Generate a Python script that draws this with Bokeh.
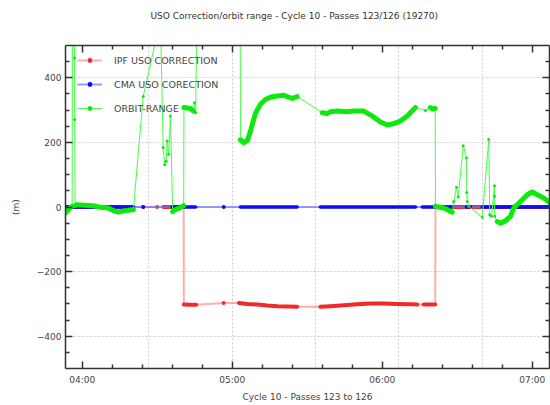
from bokeh.plotting import figure
from bokeh.models import (Range1d, FixedTicker, LinearAxis, Legend, LegendItem,
                          CustomLabelingPolicy)
from bokeh.embed import file_html
from bokeh.resources import INLINE

# ---------------- data (time in minutes after 00:00, values in metres) ----------------
# run id: 0 = isolated sample, same positive id = continuous high-rate run
ipf_t = [233.3, 260.5, 264.4, 270.0, 272.5, 280.6,
         280.65, 283.0, 285.6, 296.6,
         302.7, 306.1, 310.1, 314.1, 318.1, 322.0, 326.0,
         335.3, 339.3, 344.6, 349.9, 355.3, 360.6, 365.9, 371.3, 374.0,
         376.6, 381.2, 381.3, 426.9]
ipf_v = [0, 0, 0, 0, 0, 0,
         -302, -303, -303, -297,
         -297, -300, -302, -305, -307, -308, -309,
         -309, -307, -304, -301, -298.5, -298.5, -300, -301, -302,
         -302, -302, 0, 0]
ipf_run = [1, 1, 0, 0, 2, 2,
           3, 3, 3, 0,
           4, 4, 4, 4, 4, 4, 4,
           5, 5, 5, 5, 5, 5, 5, 5, 5,
           6, 6, 7, 7]

cma_t = [233.3, 260.5, 264.4, 276.0, 285.4, 296.6, 303.3, 326.0, 335.3, 373.3,
         376.0, 380.5, 381.5, 388.0, 393.7, 395.3, 400.0, 426.9]
cma_v = [0, 0, 0, 0, 0, 0, 0, 0, 0, 0,
         0, 0, 0, 0, 0, 0, 0, 0]
cma_run = [1, 1, 0, 2, 2, 0, 3, 3, 4, 4,
           5, 5, 6, 6, 7, 7, 8, 8]

orbit_t = [233.3, 234.5, 235.5, 236.0, 236.1, 236.8, 236.95, 237.0,
           237.2, 238.1, 242.1, 244.5, 247.3, 250.1, 252.5, 254.5, 256.5, 259.3, 260.5,
           264.4, 271.3, 272.4, 273.0, 273.6, 274.0, 274.6, 275.3,
           276.2, 277.3, 279.3, 280.6,
           280.7, 283.3, 284.5, 284.9, 285.4, 286.0, 303.2,
           303.3, 304.5, 306.1, 307.3, 309.3, 311.3, 313.3, 315.3, 317.3, 320.6, 322.5, 324.0, 326.0,
           336.0, 338.0, 339.3, 342.0, 346.0, 348.6, 352.6, 356.0, 359.3, 362.0, 364.6, 367.3, 370.0, 373.3,
           377.3, 379.3, 380.2, 381.2,
           381.3, 382.6, 384.6, 386.0, 387.3, 388.0,
           388.6, 389.7, 390.4, 392.4, 393.7, 393.8, 394.0, 394.6, 400.0, 402.6, 403.0, 403.7,
           404.9, 404.95, 405.0,
           406.0, 407.3, 409.3, 411.3, 412.6, 415.3, 418.0, 420.0, 422.0, 424.6, 426.9]
orbit_v = [-18, -8, 0, 2, 640, 640, 461, 271,
           5, 7, 5, 4, -1, -2, -11, -16, -12, -9, -8,
           342, 580, 184, 131, 142, 204, 163, 282,
           -14, -8, -2, 4,
           308, 305, 297, 323, 292, 700, 700,
           208, 199, 206, 235, 290, 318, 333, 340, 343, 346, 340, 336, 342,
           292, 289, 295, 297, 295, 297, 297, 282, 263, 254, 258, 266, 282, 308,
           299, 308, 303, 305,
           2, 0, -3, -8, -14, -16,
           17, 61, 31, 190, 152, 45, 17, 2, -32, 209, -24, -29,
           66, 33, -29,
           -45, -50, -43, -29, -3, 17, 38, 47, 38, 28, 14]
orbit_run = [1, 1, 1, 1, 0, 0, 0, 0,
             2, 2, 2, 2, 2, 2, 2, 2, 2, 2, 2,
             0, 0, 0, 0, 0, 0, 0, 0,
             3, 3, 3, 3,
             4, 4, 4, 0, 0, 0, 0,
             5, 5, 5, 5, 5, 5, 5, 5, 5, 5, 5, 5, 5,
             6, 6, 6, 6, 6, 6, 6, 6, 6, 6, 6, 6, 6, 6,
             0, 7, 7, 7,
             8, 8, 8, 8, 8, 8,
             0, 0, 0, 0, 0, 0, 0, 0, 0, 0, 0, 0,
             0, 0, 0,
             9, 9, 9, 9, 9, 9, 9, 9, 9, 9, 9]

x_start_s, x_end_s = 14000, 25614          # seconds
grid_x_s = [16000, 18000, 20000, 22000, 24000]
tick_t = [240, 300, 360, 420]
tick_labels = ["04:00", "05:00", "06:00", "07:00"]
minor_t = [228, 252, 264, 276, 288, 312, 324, 336, 348, 372, 384, 396, 408]
y_ticks = [-400, -200, 0, 200, 400]
y_minor = [-450, -350, -300, -250, -150, -100, -50, 50, 100, 150, 250, 300, 350, 450]

title_text = "USO Correction/orbit range - Cycle 10 - Passes 123/126 (19270)"
x_label = "Cycle 10 - Passes 123 to 126"
y_label = "(m)"
names = ["IPF USO CORRECTION", "CMA USO CORECTION", "ORBIT-RANGE"]

FONT = "DejaVu Sans"
TXT = "#444444"


def runs(t, v, r):
    xs, ys = [], []
    for rid in sorted(set(r) - {0}):
        idx = [i for i, k in enumerate(r) if k == rid]
        xs.append([t[i] for i in idx])
        ys.append([v[i] for i in idx])
    return xs, ys


def isolated(t, v, r):
    idx = [i for i, k in enumerate(r) if k == 0]
    return [t[i] for i in idx], [v[i] for i in idx]


p = figure(width=550, height=405, output_backend="svg", toolbar_location=None,
           x_range=Range1d(x_start_s / 60, x_end_s / 60), y_range=Range1d(-500, 500),
           min_border_left=65, min_border_right=1, min_border_top=45, min_border_bottom=37)
p.outline_line_color = None
p.background_fill_color = "white"
p.border_fill_color = "white"

# title
p.title.text = title_text
p.title.align = "left"
p.title.offset = 85
p.title.text_font = FONT
p.title.text_font_size = "9px"
p.title.text_font_style = "normal"
p.title.text_color = "#333333"
p.title.vertical_align = "bottom"
p.title.standoff = 10
if "padding" in p.title.properties():
    p.title.padding = dict(top=0, right=0, bottom=20, left=0)

# grids
p.xgrid.ticker = FixedTicker(ticks=[s / 60 for s in grid_x_s])
p.ygrid.ticker = FixedTicker(ticks=y_ticks)
for g in (p.xgrid, p.ygrid):
    g.grid_line_color = "#cccccc"
    g.grid_line_dash = "2 2"
    g.grid_line_width = 1

xticker = FixedTicker(ticks=tick_t, minor_ticks=minor_t)
yticker = FixedTicker(ticks=y_ticks, minor_ticks=y_minor)


def style_axis(ax, size="9px"):
    ax.axis_line_color = "#333333"
    ax.axis_line_width = 1.5
    ax.major_tick_line_color = "#333333"
    ax.minor_tick_line_color = "#333333"
    ax.major_tick_line_width = 1.5
    ax.minor_tick_line_width = 1.5
    ax.major_tick_in = 7
    ax.major_tick_out = 0
    ax.minor_tick_in = 4
    ax.minor_tick_out = 0
    ax.major_label_text_font = FONT
    ax.major_label_text_font_size = size
    ax.major_label_text_color = TXT
    ax.axis_label_text_font = FONT
    ax.axis_label_text_font_size = "9px"
    ax.axis_label_text_color = TXT
    ax.axis_label_text_font_style = "normal"


no_labels = "for (const i of indices) { indices.unset(i) }\nreturn indices"

xa = p.xaxis[0]
xa.ticker = xticker
xa.major_label_overrides = dict(zip(tick_t, tick_labels))
xa.axis_label = x_label
style_axis(xa)
xa.major_label_standoff = 6
xa.axis_label_standoff = 4

ya = p.yaxis[0]
ya.ticker = yticker
ya.axis_label = y_label
style_axis(ya)
ya.major_label_standoff = 4
ya.axis_label_standoff = 13

top = LinearAxis(ticker=FixedTicker(ticks=tick_t, minor_ticks=minor_t),
                 major_label_policy=CustomLabelingPolicy(code=no_labels))
style_axis(top, "0px")
top.major_label_standoff = 0
p.add_layout(top, "above")
right = LinearAxis(ticker=FixedTicker(ticks=y_ticks, minor_ticks=y_minor),
                   major_label_policy=CustomLabelingPolicy(code=no_labels))
style_axis(right, "0px")
right.major_label_standoff = 0
p.add_layout(right, "right")

# series: thin connecting line, thick high-rate runs, isolated samples
series = [
    (ipf_t, ipf_v, ipf_run, "#ff6a6a", 2.0, 0.55, "#ee2a2a", 4.0, 4),
    (cma_t, cma_v, cma_run, "#6f6fff", 2.0, 0.7, "#0a0aff", 3.5, 4),
    (orbit_t, orbit_v, orbit_run, "#44ff44", 1.0, 1.0, "#0cea0c", 5.0, 3),
]
leg = []
for name, (t, v, r, thin_c, thin_w, thin_a, thick_c, thick_w, dot) in zip(names, series):
    r1 = p.line(t, v, line_color=thin_c, line_width=thin_w, line_alpha=thin_a)
    xs, ys = runs(t, v, r)
    p.multi_line(xs, ys, line_color=thick_c, line_width=thick_w,
                 line_cap="round", line_join="round")
    ix, iy = isolated(t, v, r)
    r2 = p.scatter(ix, iy, size=dot, color=thick_c, line_color=None)
    leg.append(LegendItem(label=name, renderers=[r1, r2]))

legend = Legend(items=leg, location=(12, 254))
legend.border_line_color = None
legend.background_fill_alpha = 0
legend.padding = 0
legend.margin = 0
legend.spacing = 12
legend.glyph_width = 25
legend.glyph_height = 12
legend.label_height = 12
legend.label_standoff = 12
legend.label_text_font = FONT
legend.label_text_font_size = "9.5px"
legend.label_text_color = TXT
p.add_layout(legend)

open("out.html", "w").write(file_html(p, INLINE))
